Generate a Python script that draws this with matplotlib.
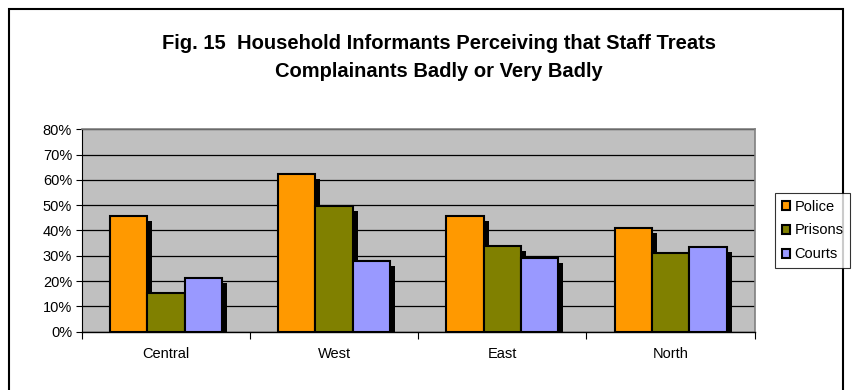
import matplotlib
matplotlib.use("Agg")
import matplotlib.pyplot as plt
import matplotlib.transforms as mtransforms
from matplotlib.patches import Patch, Rectangle
from matplotlib.ticker import PercentFormatter, FixedLocator
import numpy as np

plt.rcParams['font.family'] = ['Liberation Sans', 'DejaVu Sans']

categories = ["Central", "West", "East", "North"]
series_names = ["Police", "Prisons", "Courts"]
police = [45.8, 62.5, 45.8, 40.8]
prisons = [15.2, 49.8, 34.0, 31.0]
courts = [21.1, 27.9, 29.0, 33.3]
colors = ["#FF9900", "#808000", "#9999FF"]
title = "Fig. 15  Household Informants Perceiving that Staff Treats\nComplainants Badly or Very Badly"

fig = plt.figure(figsize=(8.55, 3.9), dpi=100)
fig.patches.append(Rectangle((9/855, -0.1), (843-9)/855, 1 - 9/390 + 0.1,
                             transform=fig.transFigure, fill=False,
                             edgecolor='black', linewidth=1.5))
ax = fig.add_axes([0.0957, 0.1495, 0.787, 0.519])
ax.set_facecolor('#C0C0C0')

x = np.arange(len(categories))
bw = 1 / 4.5
shadow_tr = mtransforms.offset_copy(ax.transData, fig=fig, x=5, y=-5, units='dots')
for i, (vals, c) in enumerate(zip([police, prisons, courts], colors)):
    pos = x + (i - 1) * bw
    ax.bar(pos, vals, width=bw, color='black', edgecolor='black', linewidth=0,
           transform=shadow_tr, zorder=2)
for i, (vals, c) in enumerate(zip([police, prisons, courts], colors)):
    pos = x + (i - 1) * bw
    ax.bar(pos, vals, width=bw, color=c, edgecolor='black', linewidth=1.5,
           zorder=3, label=series_names[i])

ax.set_xlim(-0.5, len(categories) - 0.5)
ax.set_ylim(0, 80)
ax.set_yticks(np.arange(0, 81, 10))
ax.yaxis.set_major_formatter(PercentFormatter(decimals=0))
ax.yaxis.grid(True, color='black', linewidth=0.9)
ax.set_axisbelow(True)
ax.xaxis.set_major_locator(FixedLocator(np.arange(-0.5, len(categories), 1.0)))
ax.set_xticklabels([], minor=False)
ax.set_xticks(x, minor=True)
ax.set_xticklabels(categories, minor=True)
ax.tick_params(axis='x', which='minor', length=0, labelsize=10.5, pad=11)
ax.tick_params(axis='x', which='major', length=5, width=0.8, color='black')
ax.tick_params(axis='y', length=4, width=0.8, labelsize=10.5, pad=3)

for s in ['top', 'right']:
    ax.spines[s].set_color('#808080')
    ax.spines[s].set_linewidth(1.2)
ax.spines['left'].set_color('black')
ax.spines['bottom'].set_color('black')
ax.spines['left'].set_linewidth(0.8)
ax.spines['bottom'].set_linewidth(1.0)

handles = [Patch(facecolor=c, edgecolor='black', linewidth=1.5, label=n)
           for c, n in zip(colors, series_names)]
leg = fig.legend(handles=handles, loc='upper left',
                 bbox_to_anchor=(775/855, 1 - 193/390), fontsize=10.5,
                 frameon=True, fancybox=False, handlelength=0.6,
                 handleheight=0.6, handletextpad=0.3, labelspacing=0.68,
                 borderpad=0.45, borderaxespad=0)
leg.get_frame().set_edgecolor('black')
leg.get_frame().set_linewidth(0.8)

fig.text(439/855, 1 - 57.5/390, title, ha='center', va='center',
         fontsize=14.5, fontweight='bold', linespacing=1.6)

fig.savefig("out.png", dpi=100)
